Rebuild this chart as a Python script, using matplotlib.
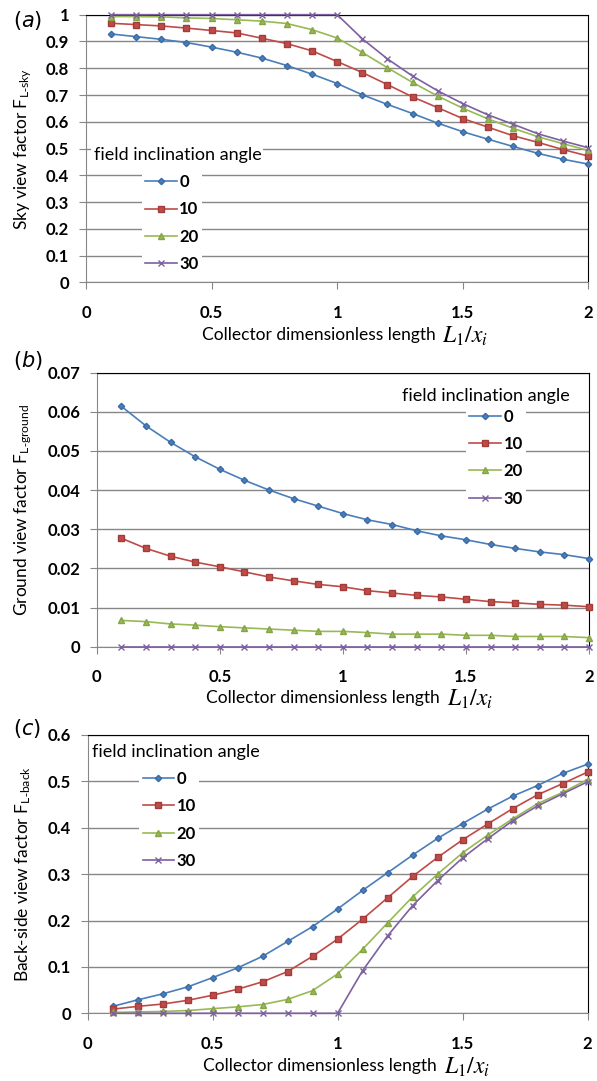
import matplotlib
matplotlib.use('Agg')
import matplotlib.pyplot as plt
import numpy as np
from matplotlib.ticker import FuncFormatter

plt.rcParams['font.family'] = ['Lato', 'DejaVu Sans']
plt.rcParams['mathtext.fontset'] = 'stix'

#====Data====
x_len = [0.1, 0.2, 0.3, 0.4, 0.5, 0.6, 0.7, 0.8, 0.9, 1.0,
         1.1, 1.2, 1.3, 1.4, 1.5, 1.6, 1.7, 1.8, 1.9, 2.0]
angles = ['0', '10', '20', '30']

sky_0 = [0.928, 0.918, 0.908, 0.896, 0.879, 0.860, 0.838, 0.810, 0.778, 0.743,
         0.701, 0.665, 0.631, 0.595, 0.563, 0.535, 0.508, 0.482, 0.460, 0.442]
sky_10 = [0.968, 0.963, 0.958, 0.950, 0.941, 0.932, 0.912, 0.892, 0.865, 0.825,
          0.784, 0.739, 0.693, 0.653, 0.612, 0.580, 0.548, 0.523, 0.496, 0.472]
sky_20 = [0.993, 0.993, 0.992, 0.988, 0.986, 0.981, 0.976, 0.967, 0.944, 0.913,
          0.859, 0.802, 0.747, 0.696, 0.651, 0.611, 0.576, 0.544, 0.518, 0.493]
sky_30 = [1.0, 1.0, 1.0, 1.0, 1.0, 1.0, 1.0, 1.0, 1.0, 1.0,
          0.910, 0.835, 0.771, 0.716, 0.668, 0.626, 0.591, 0.555, 0.528, 0.503]

ground_0 = [0.0614, 0.0564, 0.0522, 0.0485, 0.0453, 0.0425, 0.0400, 0.0378, 0.0359, 0.0340,
            0.0324, 0.0312, 0.0296, 0.0283, 0.0273, 0.0261, 0.0251, 0.0242, 0.0235, 0.0225]
ground_10 = [0.0277, 0.0251, 0.0231, 0.0216, 0.0204, 0.0191, 0.0178, 0.0168, 0.0159, 0.0153,
             0.0143, 0.0137, 0.0131, 0.0127, 0.0121, 0.0115, 0.0112, 0.0108, 0.0106, 0.0102]
ground_20 = [0.0067, 0.0064, 0.0058, 0.0055, 0.0051, 0.0048, 0.0045, 0.0042, 0.0039, 0.0039,
             0.0036, 0.0032, 0.0032, 0.0032, 0.0029, 0.0029, 0.0026, 0.0026, 0.0026, 0.0023]
ground_30 = [0.0, 0.0, 0.0, 0.0, 0.0, 0.0, 0.0, 0.0, 0.0, 0.0,
             0.0, 0.0, 0.0, 0.0, 0.0, 0.0, 0.0, 0.0, 0.0, 0.0]

back_0 = [0.015, 0.029, 0.042, 0.057, 0.077, 0.098, 0.123, 0.155, 0.187, 0.225,
          0.265, 0.303, 0.341, 0.377, 0.409, 0.440, 0.468, 0.491, 0.517, 0.537]
back_10 = [0.009, 0.015, 0.020, 0.028, 0.039, 0.052, 0.068, 0.090, 0.123, 0.160,
           0.203, 0.249, 0.295, 0.336, 0.374, 0.408, 0.441, 0.471, 0.495, 0.520]
back_20 = [0.002, 0.003, 0.004, 0.006, 0.010, 0.014, 0.019, 0.030, 0.049, 0.085,
           0.138, 0.195, 0.251, 0.300, 0.346, 0.384, 0.419, 0.452, 0.476, 0.504]
back_30 = [0.0, 0.0, 0.0, 0.0, 0.0, 0.0, 0.0, 0.0, 0.0, 0.0,
           0.092, 0.167, 0.232, 0.286, 0.335, 0.376, 0.415, 0.447, 0.473, 0.499]

#====Style====
colors = ['#4A7EBB', '#BE4B48', '#98B954', '#7D60A0']
edges = ['#3A6BA5', '#A33C39', '#84A445', '#7D60A0']
markers = ['D', 's', '^', 'x']
msizes = [3.2, 4.5, 4.5, 4.5]
grid_c = '#878787'


def fmt(v, p):
    return f'{v:g}'


def draw_panel(ax, series, ymax, ystep, ylabel, title_xy, leg_xy, ylab_x, xlab_xy):
    for vals, lab, c, ec, m, ms in zip(series, angles, colors, edges, markers, msizes):
        ax.plot(x_len, vals, color=c, lw=1.2, marker=m, ms=ms, mfc=c, mec=ec,
                mew=1.0, label=lab, clip_on=False, zorder=3)
    ax.set_xlim(0, 2)
    ax.set_ylim(0, ymax)
    ax.set_xticks([0, 0.5, 1, 1.5, 2])
    ax.set_yticks(np.round(np.arange(0, ymax + ystep / 2, ystep), 4))
    ax.xaxis.set_major_formatter(FuncFormatter(fmt))
    ax.yaxis.set_major_formatter(FuncFormatter(fmt))
    ax.grid(axis='y', color=grid_c, lw=1.0, zorder=0)
    ax.set_axisbelow(True)
    for s in ['left', 'bottom']:
        ax.spines[s].set_color(grid_c)
    for s in ['top', 'right']:
        ax.spines[s].set_color('black')
    ax.tick_params(axis='y', direction='out', length=5, color=grid_c, pad=7)
    ax.tick_params(axis='x', direction='out', length=5, color=grid_c, pad=11)
    for t in ax.get_xticklabels() + ax.get_yticklabels():
        t.set_fontsize(12)
        t.set_fontweight('bold')
    ax.set_ylabel(ylabel, fontsize=12.5)
    ax.yaxis.set_label_coords(ylab_x, 0.5)
    ax.set_xlabel('Collector dimensionless length', fontsize=12.5)
    ax.xaxis.set_label_coords(xlab_xy[0], xlab_xy[1])
    # the L1/xi part is set larger, like the equation font of the original
    ax.annotate('$L_1/x_i$', xy=(1, 0.5), xycoords=ax.xaxis.label,
                xytext=(5, -1), textcoords='offset points', ha='left', va='center',
                fontsize=17)
    ax.text(title_xy[0], title_xy[1], 'field inclination angle', transform=ax.transAxes,
            fontsize=13, ha='left', va='center', zorder=4,
            bbox=dict(facecolor='white', edgecolor='none', pad=1.5))
    leg = ax.legend(loc='center left', bbox_to_anchor=leg_xy, frameon=True,
                    fancybox=False, framealpha=1, edgecolor='none', borderpad=0.2,
                    borderaxespad=0, handlelength=1.9, handletextpad=0.15,
                    labelspacing=0.68, prop={'size': 12, 'weight': 'bold'})
    leg.set_zorder(4)


fig = plt.figure(figsize=(5.97, 10.81), dpi=100)
ax_a = fig.add_axes([0.1441, 0.7387, 0.8414, 0.2477])
ax_b = fig.add_axes([0.1620, 0.4018, 0.8246, 0.2535])
ax_c = fig.add_axes([0.1469, 0.0626, 0.8372, 0.2575])

draw_panel(ax_a, [sky_0, sky_10, sky_20, sky_30], 1.0, 0.1,
           r'Sky view factor F$_{\mathregular{L\text{-}sky}}$',
           (0.015, 0.476), (0.111, 0.222), -0.104, (0.463, -0.168))
draw_panel(ax_b, [ground_0, ground_10, ground_20, ground_30], 0.07, 0.01,
           r'Ground view factor F$_{\mathregular{L\text{-}ground}}$',
           (0.621, 0.916), (0.750, 0.690), -0.127, (0.460, -0.158))
draw_panel(ax_c, [back_0, back_10, back_20, back_30], 0.6, 0.1,
           r'Back-side view factor F$_{\mathregular{L\text{-}back}}$',
           (0.009, 0.938), (0.103, 0.695), -0.109, (0.465, -0.160))

# panel letters
for lab, yy in zip(['a', 'b', 'c'], [20, 360, 728]):
    fig.text(13 / 597, 1 - yy / 1081, r'$(\mathit{' + lab + '})$', fontsize=15,
             ha='left', va='center', math_fontfamily='dejavusans')

fig.savefig('out.png', dpi=100)
